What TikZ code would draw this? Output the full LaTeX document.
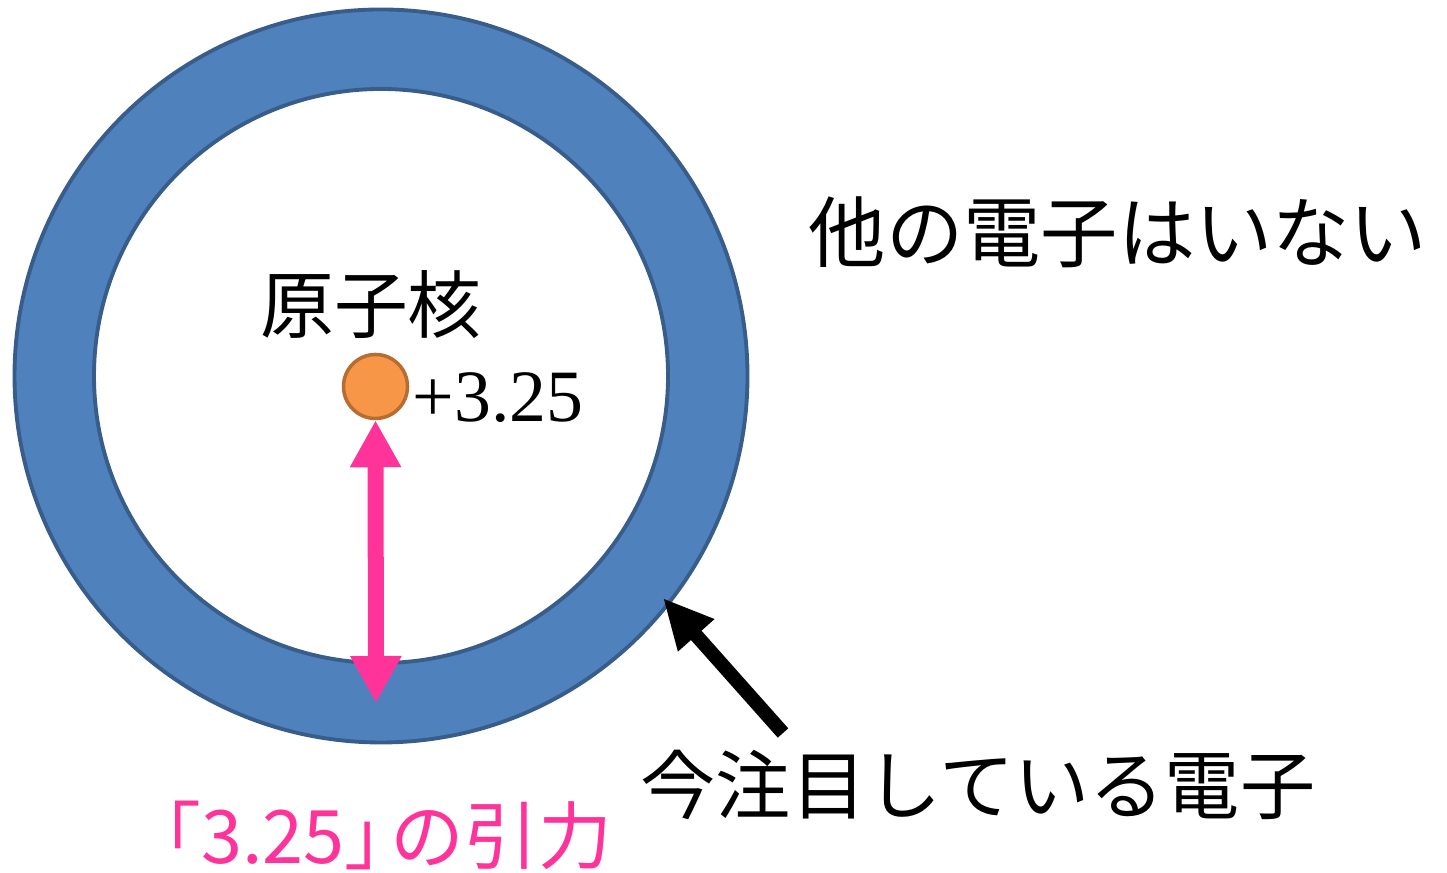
\documentclass[tikz,border=0pt]{standalone}
\usepackage{fontspec}
\setmainfont{Liberation Serif}
\newfontfamily\jpfont{Noto Sans CJK JP}
\usetikzlibrary{arrows.meta, positioning}

\definecolor{shellblue}{HTML}{4F81BD}
\definecolor{shelledge}{HTML}{385D8A}
\definecolor{nucfill}{HTML}{F79646}
\definecolor{nucedge}{HTML}{B66D31}
\definecolor{forcepink}{HTML}{FF3399}

\begin{document}
\begin{tikzpicture}[
    every node/.style={inner sep=0pt},
    jp/.style={font=\jpfont\fontsize{21pt}{25pt}\selectfont},
    jpbig/.style={font=\jpfont\fontsize{22pt}{26pt}\selectfont},
    shellring/.style={circle, draw=shelledge, line width=1.1pt}
]
\useasboundingbox (0,0) rectangle (14.47,8.73);

% Shell and nucleus
\node[shellring, fill=shellblue, minimum size=7.33cm] (shell) at (3.81,4.97) {};
\node[shellring, fill=white, minimum size=5.74cm] (hole) at (3.81,4.97) {};
\node[circle, draw=nucedge, line width=1pt, fill=nucfill, minimum size=0.64cm] (nucleus) at (3.755,4.865) {};

% Labels
\node[jp] (nuclabel) at (3.71,5.68) {原子核};
\node[anchor=base west, font=\fontsize{21pt}{25pt}\selectfont] (charge) at (4.12,4.51) {+3.25};
\node[jpbig] (noother) at (11.18,6.41) {他の電子はいない};
\node[font=\jpfont\fontsize{21.4pt}{25pt}\selectfont] (focus) at (9.78,0.88) {今注目している電子};
\node[jp, text=forcepink, anchor=west] (force) at (1.27,0.38) {「3.25」\kern-0.38em の引力};

% Arrows
\coordinate (pull) at (3.76,1.70);
\coordinate (tail) at (7.83,1.40);
\coordinate (tip) at (6.63,2.75);
\draw[forcepink, line width=0.16cm, {Triangle[width=0.48cm, length=0.47cm]}-{Triangle[width=0.48cm, length=0.47cm]}] (nucleus.south) -- (pull);
\draw[black, line width=0.14cm, -{Triangle[width=0.45cm, length=0.50cm]}] (tail) -- (tip);

\end{tikzpicture}
\end{document}
